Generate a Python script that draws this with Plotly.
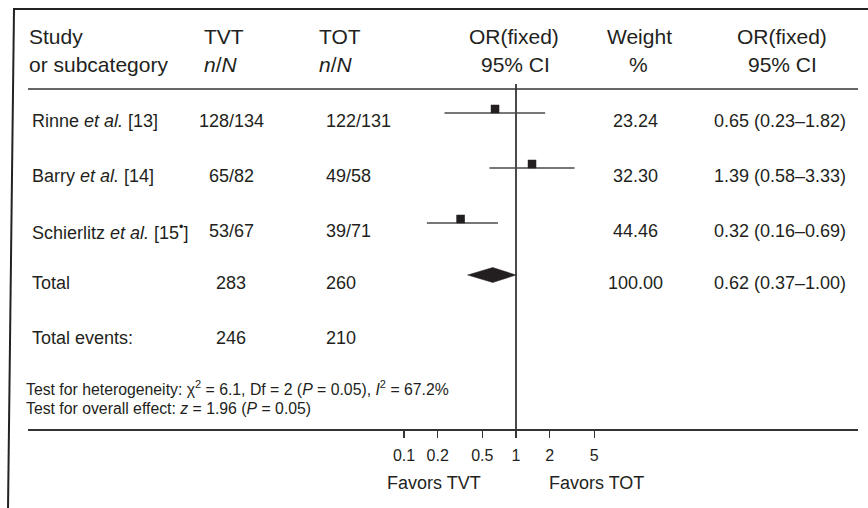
import plotly.graph_objects as go

# ---------------- data ----------------
study_labels = ["Rinne <i>et al.</i> [13]", "Barry <i>et al.</i> [14]",
                "Schierlitz <i>et al.</i> [15<sup>•</sup>]"]
tvt_counts = ["128/134", "65/82", "53/67"]
tot_counts = ["122/131", "49/58", "39/71"]
odds_ratio = [0.65, 1.39, 0.32]
ci_low = [0.23, 0.58, 0.16]
ci_high = [1.82, 3.33, 0.69]
weights = [23.24, 32.30, 44.46]

total_tvt = 283
total_tot = 260
events_tvt = 246
events_tot = 210
pooled_or = 0.62
pooled_low = 0.37
pooled_high = 1.00
total_weight = 100.00

chi2 = 6.1
df = 2
p_het = 0.05
i2 = 67.2
z_val = 1.96
p_overall = 0.05

tick_vals = [0.1, 0.2, 0.5, 1, 2, 5]
tick_text = ["0.1", "0.2", "0.5", "1", "2", "5"]

# ---------------- layout geometry (pixels) ----------------
W, H = 868, 508
PL, PR, PT, PB = 28, 858, 0, 429          # plot area
ONE_PX, PX_PER_DEC = 516, 112
XR = [(PL - ONE_PX) / PX_PER_DEC, (PR - ONE_PX) / PX_PER_DEC]

row_y = [121, 176, 231]
total_y = 283
events_y = 338
mark_off = -8

INK = "#231f20"
LINE = "#4a4a4a"
FONT = "Liberation Sans, Arial, sans-serif"


def px(x):
    return (x - PL) / (PR - PL)


def py(y):
    return (PB - y) / (PB - PT)


fig = go.Figure()

# reference line at OR = 1
fig.add_trace(go.Scatter(x=[1, 1], y=[84, PB], mode="lines",
                         line=dict(color=LINE, width=2), hoverinfo="skip"))

# confidence intervals
for lo, hi, ry in zip(ci_low, ci_high, row_y):
    fig.add_trace(go.Scatter(x=[lo, hi], y=[ry + mark_off] * 2, mode="lines",
                             line=dict(color=LINE, width=1.5), hoverinfo="skip"))

# point estimates
fig.add_trace(go.Scatter(x=odds_ratio, y=[ry + mark_off - 4 for ry in row_y],
                         mode="markers",
                         marker=dict(symbol="square", size=8.5, color=INK,
                                     line=dict(width=0)),
                         hoverinfo="skip"))

# pooled diamond
dy = total_y + mark_off
fig.add_trace(go.Scatter(x=[pooled_low, pooled_or, pooled_high, pooled_or, pooled_low],
                         y=[dy, dy - 7.5, dy, dy + 7.5, dy],
                         mode="lines", fill="toself", fillcolor=INK,
                         line=dict(color=INK, width=0.5), hoverinfo="skip"))

annotations = []


def ann(text, x, y, size=18, anchor="left", yanchor="middle"):
    annotations.append(dict(text=text, x=px(x), y=py(y), xref="paper", yref="paper",
                            xanchor=anchor, yanchor=yanchor, showarrow=False,
                            borderpad=0,
                            font=dict(size=size, color=INK, family=FONT)))


# header
HS = 21
ann("Study", 28, 37, HS)
ann("or subcategory", 28, 64, HS)
ann("TVT", 203, 37, HS)
ann("<i>n</i>/<i>N</i>", 203, 64, HS)
ann("TOT", 318, 37, HS)
ann("<i>n</i>/<i>N</i>", 318, 64, HS)
ann("OR(fixed)", 514, 37, HS, "center")
ann("95% CI", 515, 64, HS, "center")
ann("Weight", 639, 37, HS, "center")
ann("%", 638, 64, HS, "center")
ann("OR(fixed)", 782, 37, HS, "center")
ann("95% CI", 782, 64, HS, "center")

# rows
for lab, a, b, w, o, lo, hi, ry in zip(study_labels, tvt_counts, tot_counts, weights,
                                       odds_ratio, ci_low, ci_high, row_y):
    ann(lab, 31, ry)
    ann(a, 231, ry, anchor="center")
    ann(b, 325, ry)
    ann(f"{w:.2f}", 635, ry, anchor="center")
    ann(f"{o:.2f} ({lo:.2f}–{hi:.2f})", 780, ry, anchor="center")

ann("Total", 31, total_y)
ann(str(total_tvt), 231, total_y, anchor="center")
ann(str(total_tot), 325, total_y)
ann(f"{total_weight:.2f}", 635, total_y, anchor="center")
ann(f"{pooled_or:.2f} ({pooled_low:.2f}–{pooled_high:.2f})", 780, total_y, anchor="center")

ann("Total events:", 31, events_y)
ann(str(events_tvt), 231, events_y, anchor="center")
ann(str(events_tot), 325, events_y)

# footnotes
ann(f"Test for heterogeneity: χ<sup>2</sup> = {chi2}, Df = {df} (<i>P</i> = {p_het:.2f}), "
    f"<i>I</i><sup>2</sup> = {i2}%", 25, 399, 15.8, yanchor="bottom")
ann(f"Test for overall effect: <i>z</i> = {z_val:.2f} (<i>P</i> = {p_overall:.2f})",
    25, 399, 15.8, yanchor="top")

# favours labels
ann("Favors TVT", 434, 483, 18, "center")
ann("Favors TOT", 596, 483, 18, "center")

shapes = [
    # header rule
    dict(type="line", xref="paper", yref="y", x0=0, x1=1, y0=89, y1=89,
         line=dict(color="#333333", width=1.5)),
    # frame top
    dict(type="line", xref="paper", yref="paper", x0=px(13), x1=px(870),
         y0=py(9), y1=py(9), line=dict(color="#222222", width=2)),
    # frame left
    dict(type="line", xref="paper", yref="paper", x0=px(14), x1=px(8),
         y0=py(9), y1=py(510), line=dict(color="#222222", width=2)),
]

fig.update_layout(
    width=W, height=H,
    margin=dict(l=PL, r=W - PR, t=PT, b=H - PB, pad=0),
    paper_bgcolor="white", plot_bgcolor="white",
    showlegend=False,
    font=dict(family=FONT, color=INK),
    annotations=annotations,
    shapes=shapes,
    xaxis=dict(type="log", range=XR, tickvals=tick_vals, ticktext=tick_text,
               ticks="outside", ticklen=7, tickwidth=1.5, tickcolor="#333333",
               showline=True, linecolor="#333333", linewidth=1.5,
               showgrid=False, zeroline=False, tickfont=dict(size=16, color=INK),
               ticklabelstandoff=4, fixedrange=True),
    yaxis=dict(range=[PB, PT], visible=False, fixedrange=True),
)

fig.write_html("out.html",
               config={"displayModeBar": False, "staticPlot": True},
               post_script="document.body.style.margin='0';"
                           "document.body.style.overflow='hidden';")
